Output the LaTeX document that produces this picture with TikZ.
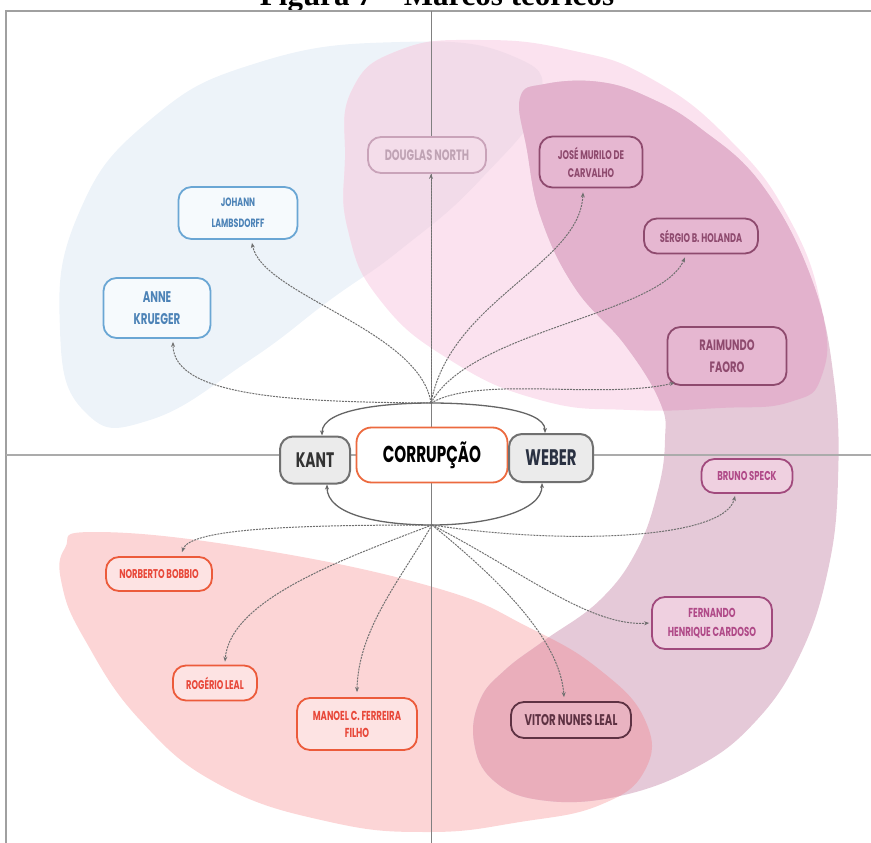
\documentclass[tikz,border=0pt]{standalone}
\usepackage{fontspec}
\setmainfont{Liberation Serif}
\newfontfamily\mm[FakeStretch=0.66]{Poppins}
\usetikzlibrary{arrows.meta}
\definecolor{cA}{HTML}{EDF3F9}
\definecolor{cB}{HTML}{FBE2EF}
\definecolor{cAB}{HTML}{F2DBE9}
\definecolor{cC}{HTML}{E5C9D8}
\definecolor{cBC}{HTML}{E3B2CD}
\definecolor{cD}{HTML}{FCD5D6}
\definecolor{cCD}{HTML}{EAAEBB}
\definecolor{frameC}{HTML}{A0A0A0}
\definecolor{axisC}{HTML}{ABABAB}
\definecolor{arrC}{HTML}{707070}
\definecolor{blueB}{HTML}{6AA6D4}
\definecolor{blueF}{HTML}{F6FAFD}
\definecolor{blueT}{HTML}{4D83B7}
\definecolor{lilB}{HTML}{C9A3B9}
\definecolor{lilF}{HTML}{F4DDEA}
\definecolor{lilT}{HTML}{BFA3B4}
\definecolor{dpB}{HTML}{8E4A6E}
\definecolor{dpF}{HTML}{E6B7D1}
\definecolor{dpT}{HTML}{8E4A6E}
\definecolor{mvB}{HTML}{A14A7D}
\definecolor{mvF}{HTML}{EFD0E0}
\definecolor{mvT}{HTML}{B04A88}
\definecolor{vtB}{HTML}{5E3243}
\definecolor{vtF}{HTML}{E9B3C1}
\definecolor{vtT}{HTML}{5E3243}
\definecolor{rdB}{HTML}{EC5B3B}
\definecolor{rdF}{HTML}{FDE3E3}
\definecolor{rdT}{HTML}{E8483A}
\definecolor{orB}{HTML}{EC6A3F}
\definecolor{gyB}{HTML}{707070}
\definecolor{gyF}{HTML}{EBEBEB}
\definecolor{gyT}{HTML}{333333}
\definecolor{wbT}{HTML}{2A3142}
\begin{document}
\begin{tikzpicture}[x=1pt,y=-1pt,
  blobA/.style={insert path={plot[smooth cycle,tension=0.8] coordinates {(60,330) (78,215) (150,120) (260,62) (400,42) (510,55) (540,100) (480,180) (400,250) (330,300) (250,360) (150,420) (85,412)}}},
  blobB/.style={insert path={plot[smooth cycle,tension=0.8] coordinates {(345,160) (352,90) (400,50) (480,40) (570,50) (650,78) (730,140) (790,220) (822,310) (822,375) (790,402) (720,408) (630,410) (540,400) (450,360) (380,300) (348,230)}}},
  blobC/.style={insert path={plot[smooth cycle,tension=0.7] coordinates {(520,98) (545,84) (600,82) (650,98) (700,128) (762,185) (812,280) (834,380) (838,480) (828,570) (800,655) (755,722) (695,768) (615,797) (540,800) (493,780) (474,742) (480,700) (505,670) (545,640) (600,600) (637,550) (658,490) (665,440) (660,402) (625,345) (575,288) (541,218) (527,150)}}},
  blobD/.style={insert path={plot[smooth cycle,tension=0.75] coordinates {(65,548) (95,532) (250,548) (433,587) (530,628) (600,670) (645,720) (645,770) (600,805) (520,822) (430,832) (330,822) (220,785) (140,720) (85,640) (62,585)}}},
  box/.style={draw, line width=1.8pt, rounded corners=13pt, align=center, inner sep=0pt},
  bluebox/.style={box, draw=blueB, fill=blueF, text=blueT},
  lilbox/.style={box, draw=lilB, fill=lilF, text=lilT},
  dpbox/.style={box, draw=dpB, fill=dpF, text=dpT},
  mvbox/.style={box, draw=mvB, fill=mvF, text=mvT},
  vtbox/.style={box, draw=vtB, fill=vtF, text=vtT},
  rdbox/.style={box, draw=rdB, fill=rdF, text=rdT},
  gybox/.style={box, draw=gyB, fill=gyF, line width=2pt},
  dasharr/.style={draw=arrC, line width=1pt, dash pattern=on 2pt off 1pt, -{Stealth[length=5pt,width=4pt]}},
  solarr/.style={draw=arrC!90!black, line width=1.3pt, -{Stealth[length=5pt,width=4pt]}},
  fnt/.style 2 args={font=\mm\bfseries\fontsize{#1}{#2}\selectfont}
]
\useasboundingbox (0,0) rectangle (871,843);
% background blobs
\fill[cA, blobA];
\fill[cB, blobB];
\begin{scope}\clip[blobA];\fill[cAB, blobB];\end{scope}
\fill[cD, blobD];
\fill[cC, blobC];
\begin{scope}\clip[blobB];\fill[cBC, blobC];\end{scope}
\begin{scope}\clip[blobD];\fill[cCD, blobC];\end{scope}
% title
\node[anchor=base, font=\bfseries\fontsize{31}{31}\selectfont] (title) at (437,6) {Figura 7 – Marcos teóricos};
% frame and axes
\coordinate (ftl) at (6,11);
\coordinate (ftr) at (871,11);
\coordinate (fbl) at (6,843);
\coordinate (axl) at (6,455);
\coordinate (axr) at (871,455);
\coordinate (axt) at (431,11);
\coordinate (axb) at (431,843);
\draw[frameC, line width=2.5pt] (ftr) -- (ftl) -- (fbl);
\draw[axisC, line width=2.5pt] (axl) -- (axr);
\draw[frameC!80!black, line width=0.9pt] (axt) -- (axb);
% hubs
\coordinate (ht) at (431,403);
\coordinate (hb) at (432,525);
% central nodes
\node[box, draw=orB, fill=white, text=black, minimum width=151pt, minimum height=55pt, rounded corners=15pt, fnt={23}{28}] (cor) at (432,455) {CORRUPÇÃO};
\node[gybox, text=gyT, minimum width=70pt, minimum height=47pt, fnt={21}{25}] (kant) at (315,460) {KANT};
\node[gybox, text=wbT, minimum width=84pt, minimum height=48pt, fnt={22.5}{25}] (web) at (551,458) {WEBER};
% upper nodes
\node[bluebox, minimum width=107pt, minimum height=60pt, fnt={15.5}{22}] (anne) at (157,308) {ANNE\\KRUEGER};
\node[bluebox, minimum width=119pt, minimum height=52pt, fnt={12}{21}] (joh) at (238,213) {JOHANN\\LAMBSDORFF};
\node[lilbox, minimum width=118pt, minimum height=36pt, fnt={15}{18}] (dou) at (427,155) {DOUGLAS NORTH};
\node[dpbox, minimum width=103pt, minimum height=51pt, fnt={12.5}{18}] (jose) at (591,162) {JOSÉ MURILO DE\\CARVALHO};
\node[dpbox, minimum width=114pt, minimum height=35pt, fnt={12.5}{14}] (ser) at (701,236) {SÉRGIO B. HOLANDA};
\node[dpbox, minimum width=119pt, minimum height=58pt, fnt={15}{22}] (rai) at (727,356) {RAIMUNDO\\FAORO};
% lower nodes
\node[rdbox, minimum width=106pt, minimum height=34pt, fnt={12.7}{14}] (nor) at (159,574) {NORBERTO BOBBIO};
\node[rdbox, minimum width=84pt, minimum height=35pt, fnt={12.6}{14}] (rog) at (215,683) {ROGÉRIO LEAL};
\node[rdbox, minimum width=120pt, minimum height=52pt, fnt={13}{17}] (man) at (357,724) {MANOEL C. FERREIRA\\FILHO};
\node[vtbox, minimum width=120pt, minimum height=36pt, fnt={15.5}{17}] (vit) at (571,720) {VITOR NUNES LEAL};
\node[mvbox, minimum width=91pt, minimum height=34pt, fnt={12.8}{14}] (bru) at (747,476) {BRUNO SPECK};
\node[mvbox, minimum width=120pt, minimum height=52pt, fnt={13}{19}] (fer) at (712,623) {FERNANDO\\HENRIQUE CARDOSO};
% solid connectors to Kant / Weber
\draw[solarr] (ht) .. controls (390,403) and (322,408) .. ([xshift=7pt]kant.north);
\draw[solarr] (ht) .. controls (472,403) and (545,408) .. ([xshift=-6pt]web.north);
\draw[solarr] (hb) .. controls (380,525) and (327,515) .. ([xshift=12pt]kant.south);
\draw[solarr] (hb) .. controls (485,525) and (542,512) .. ([xshift=-9pt]web.south);
% dashed connectors, upper
\draw[dasharr] (ht) .. controls (300,402) and (173,398) .. ([xshift=16pt,yshift=-3pt]anne.south);
\draw[dasharr] (ht) .. controls (420,330) and (262,295) .. ([xshift=14pt,yshift=-3pt]joh.south);
\draw[dasharr] (ht) -- (ht |- dou.south);
\draw[dasharr] (ht) .. controls (450,300) and (580,265) .. ([xshift=-8pt,yshift=-4pt]jose.south);
\draw[dasharr] (ht) .. controls (470,330) and (660,315) .. ([xshift=-16pt,yshift=-3pt]ser.south);
\draw[dasharr] (ht) .. controls (480,375) and (600,400) .. ([xshift=8pt,yshift=3pt]rai.south west);
% dashed connectors, lower
\draw[dasharr] (hb) .. controls (300,525) and (190,528) .. ([xshift=23pt,yshift=4pt]nor.north);
\draw[dasharr] (hb) .. controls (340,560) and (230,600) .. ([xshift=10pt,yshift=3pt]rog.north);
\draw[dasharr] (hb) .. controls (400,580) and (358,630) .. ([yshift=5pt]man.north);
\draw[dasharr] (hb) .. controls (500,580) and (560,640) .. ([xshift=-7pt,yshift=4pt]vit.north);
\draw[dasharr] (hb) .. controls (520,570) and (590,627) .. ([xshift=-2pt]fer.west);
\draw[dasharr] (hb) .. controls (560,545) and (725,540) .. ([xshift=-12pt,yshift=-2pt]bru.south);
\end{tikzpicture}
\end{document}
